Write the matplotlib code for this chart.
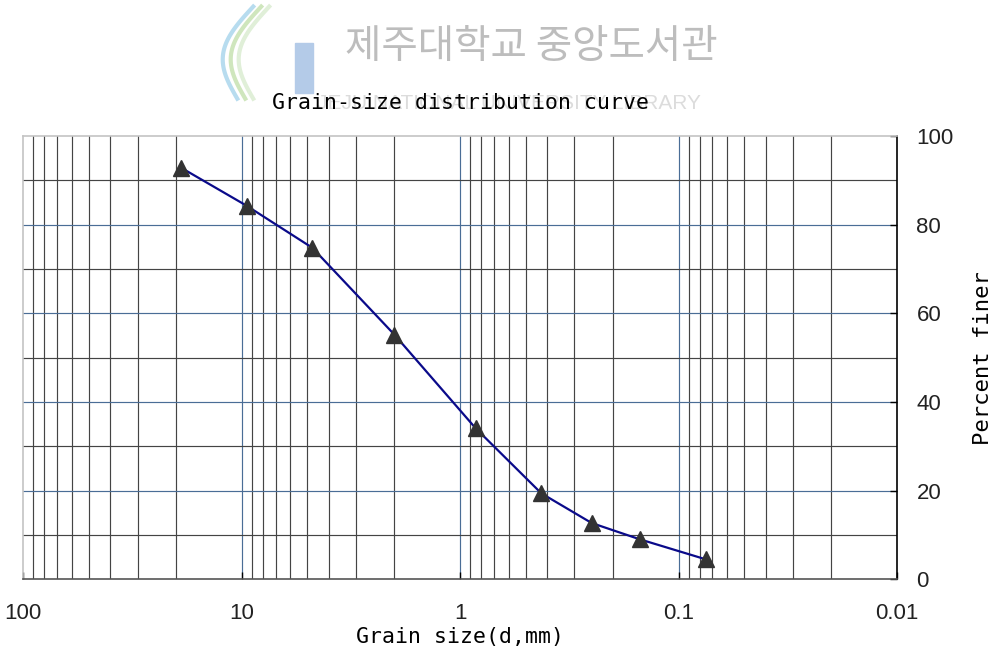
# grain-size distribution curve (semi-log, reversed x)

import matplotlib
matplotlib.use("Agg")
import matplotlib.pyplot as plt
import matplotlib.patches as mpatches
import numpy as np
from matplotlib.ticker import FixedLocator, NullFormatter

# sieve data
grain_size = [19.0, 9.5, 4.75, 2.0, 0.85, 0.425, 0.25, 0.15, 0.075]
percent_finer = [92.9, 84.3, 74.8, 55.2, 34.1, 19.4, 12.7, 9.0, 4.5]

x_major = [100, 10, 1, 0.1, 0.01]
x_major_labels = ["100", "10", "1", "0.1", "0.01"]
y_major = [0, 20, 40, 60, 80, 100]

LINE_COLOR = "#0a0a8a"
MARK_COLOR = "#333333"
MINOR_GRID = "#444444"
MAJOR_GRID = "#4a6d96"

fig = plt.figure(figsize=(9.97, 6.58), dpi=100)
ax = fig.add_axes([0.0234, 0.1196, 0.8763, 0.6735])

ax.set_xscale("log")
ax.set_xlim(100, 0.01)
ax.set_ylim(0, 100)

# vertical grid: minor (2..9 per decade) dark gray, decades steel blue
minor_x = [m * 10.0 ** e for e in range(-2, 2) for m in range(2, 10)]
for xv in minor_x:
    ax.axvline(xv, color=MINOR_GRID, lw=0.85, zorder=1)
for xv in x_major[1:-1]:
    ax.axvline(xv, color=MAJOR_GRID, lw=0.85, zorder=1)

# horizontal grid: odd tens gray, even tens blue
for yv in range(10, 100, 10):
    c = MAJOR_GRID if yv % 20 == 0 else MINOR_GRID
    ax.axhline(yv, color=c, lw=0.85, zorder=1)

ax.plot(grain_size, percent_finer, color=LINE_COLOR, lw=1.6, zorder=3)
ax.plot(grain_size, percent_finer, ls="none", marker="^", ms=12,
        color=MARK_COLOR, mec=MARK_COLOR, zorder=4)

# ticks and labels
ax.xaxis.set_major_locator(FixedLocator(x_major))
ax.xaxis.set_minor_locator(FixedLocator([]))
ax.set_xticklabels(x_major_labels)
ax.xaxis.set_minor_formatter(NullFormatter())
ax.yaxis.tick_right()
ax.yaxis.set_label_position("right")
ax.set_yticks(y_major)
ax.tick_params(axis="x", direction="in", length=5, width=1, pad=17,
               labelsize=16, colors="black")
ax.tick_params(axis="y", direction="in", length=5, width=1, pad=14,
               labelsize=16, colors="black")
for lab in ax.get_xticklabels() + ax.get_yticklabels():
    lab.set_fontfamily("Liberation Sans")
    lab.set_color("#222222")

ax.spines["left"].set_color("#c4c4c4")
ax.spines["top"].set_color("#c4c4c4")
ax.spines["bottom"].set_color("#555555")
ax.spines["right"].set_color("black")
for s in ax.spines.values():
    s.set_linewidth(1.2)

mono = "DejaVu Sans Mono"
ax.set_xlabel("Grain size(d,mm)", fontsize=15.5, family=mono, labelpad=2)
ax.set_ylabel("Percent finer", fontsize=16, family=mono, labelpad=14,
              rotation=90)

# library watermark behind the title
fig.patches.append(mpatches.Rectangle((0.296, 0.858), 0.018, 0.077,
                                      transform=fig.transFigure,
                                      color="#b4cbe8", zorder=0))
t = np.linspace(0, 1, 60)
for dx, col in [(0.0, "#cfe6bd"), (-0.008, "#b7dcef"), (0.008, "#e0efd8")]:
    xs = 0.262 + dx - 0.016 * t - 0.022 * np.sin(np.pi * t)
    ys = 0.99 - 0.14 * t
    fig.lines.append(plt.Line2D(xs, ys, transform=fig.transFigure,
                                color=col, lw=3, zorder=0))
fig.text(0.533, 0.928, "제주대학교 중앙도서관", ha="center", va="center",
         fontsize=28.5, color="#bdbdbd", family="Noto Sans CJK KR", zorder=0)
fig.text(0.51, 0.843, "JEJU NATIONAL UNIVERSITY LIBRARY", ha="center",
         va="center", fontsize=15, color="#dcdcdc", family="Liberation Sans",
         zorder=0)

fig.text(0.4614, 0.843, "Grain-size distribution curve", ha="center",
         va="center", fontsize=15.5, family=mono, color="black", zorder=5)

fig.savefig("out.png", dpi=100)
plt.close(fig)
